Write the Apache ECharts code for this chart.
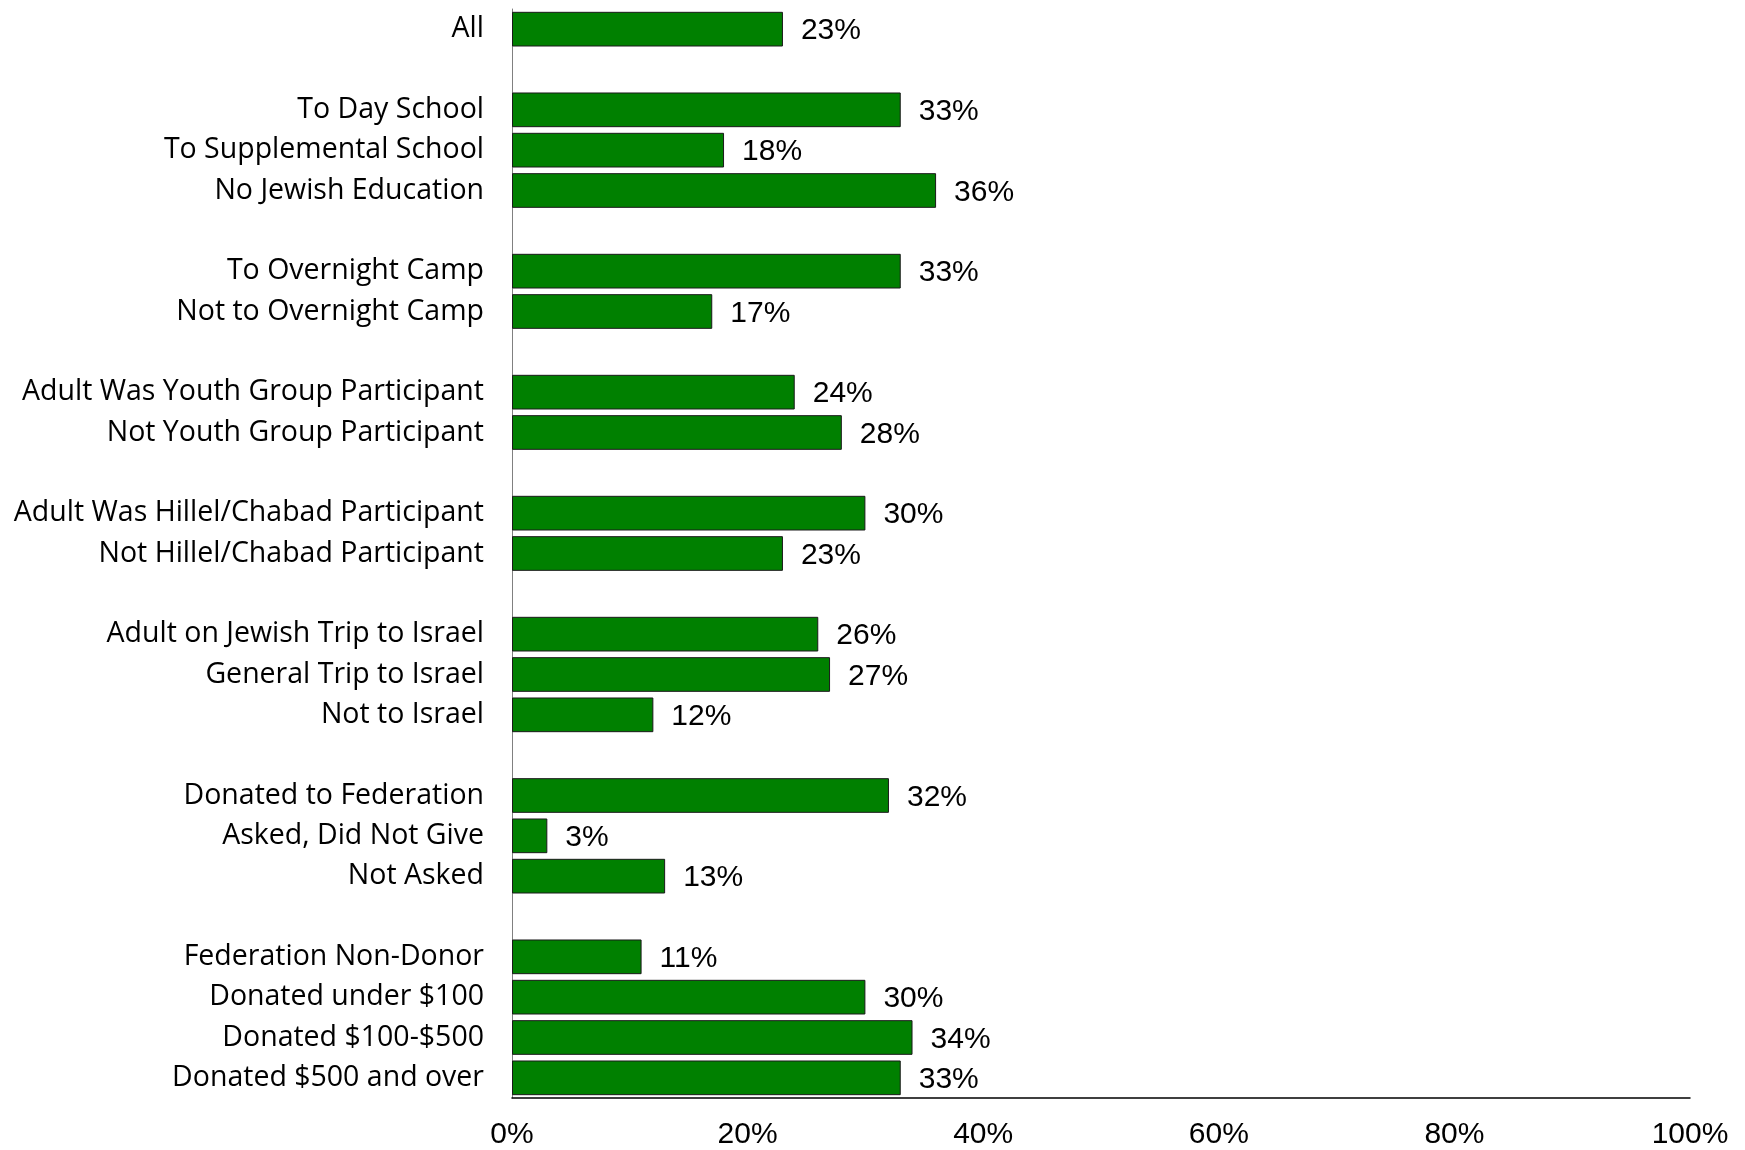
<!DOCTYPE html>
<html>
<head>
<meta charset="utf-8">
<script src="https://cdn.jsdelivr.net/npm/echarts@6/dist/echarts.min.js"></script>
<style>html,body{margin:0;padding:0;background:#fff;}#c{width:1745px;height:1150px;}</style>
</head>
<body>
<div id="c"></div>
<script>
// Groups of categories (top to bottom) and their values (%)
const groupLabels = [
  ["All"],
  ["To Day School", "To Supplemental School", "No Jewish Education"],
  ["To Overnight Camp", "Not to Overnight Camp"],
  ["Adult Was Youth Group Participant", "Not Youth Group Participant"],
  ["Adult Was Hillel/Chabad Participant", "Not Hillel/Chabad Participant"],
  ["Adult on Jewish Trip to Israel", "General Trip to Israel", "Not to Israel"],
  ["Donated to Federation", "Asked, Did Not Give", "Not Asked"],
  ["Federation Non-Donor", "Donated under $100", "Donated $100-$500", "Donated $500 and over"]
];
const groupValues = [
  [23],
  [33, 18, 36],
  [33, 17],
  [24, 28],
  [30, 23],
  [26, 27, 12],
  [32, 3, 13],
  [11, 30, 34, 33]
];
const xTicks = [0, 20, 40, 60, 80, 100];

// Build category list with a blank slot between groups
const categories = [];
const values = [];
groupLabels.forEach((g, gi) => {
  if (gi > 0) { categories.push(' '.repeat(gi)); values.push(null); }
  g.forEach((name, i) => { categories.push(name); values.push(groupValues[gi][i]); });
});

const chart = echarts.init(document.getElementById('c'), null, {renderer: 'canvas'});
chart.setOption({
  animation: false,
  grid: {left: 512, right: 55, top: 9, bottom: 43, containLabel: false},
  xAxis: {
    type: 'value',
    min: xTicks[0], max: xTicks[xTicks.length - 1], interval: 20,
    axisLine: {show: true, lineStyle: {color: '#000', width: 1.5}},
    axisTick: {show: false},
    splitLine: {show: false},
    axisLabel: {
      formatter: '{value}%', margin: 22,
      fontFamily: '"Liberation Sans", Arial, sans-serif',
      fontSize: 30, color: '#000'
    }
  },
  yAxis: {
    type: 'category', inverse: true, data: categories,
    axisLine: {show: true, lineStyle: {color: '#808080', width: 1}},
    axisTick: {show: false},
    axisLabel: {
      margin: 28, padding: [8, 0, 0, 0],
      fontFamily: '"Open Sans", Lato, sans-serif', fontSize: 28.5, color: '#000'
    }
  },
  series: [{
    type: 'bar', data: values, barCategoryGap: '14%',
    itemStyle: {color: '#008000', borderColor: '#1a1a1a', borderWidth: 1},
    label: {
      show: true, position: 'right', distance: 18, offset: [0, 2],
      formatter: p => p.value == null ? '' : p.value + '%',
      fontFamily: '"Liberation Sans", Arial, sans-serif', fontSize: 30, color: '#000'
    }
  }]
});
</script>
</body>
</html>
